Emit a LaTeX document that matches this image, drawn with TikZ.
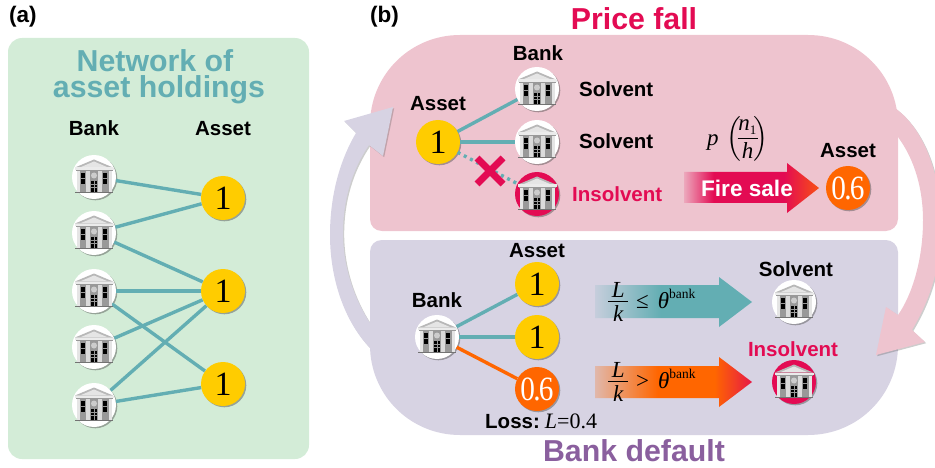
\documentclass[tikz,border=0pt]{standalone}
\usepackage{fontspec}
\usepackage{amsmath}
\setmainfont{Liberation Sans}
\newfontfamily\serifmath{Liberation Serif}
\usetikzlibrary{shadows}
\definecolor{panelgreen}{HTML}{D3ECD7}
\definecolor{panelpink}{HTML}{EEC4CF}
\definecolor{panellav}{HTML}{D7D3E3}
\definecolor{crim}{HTML}{E30B53}
\definecolor{orng}{HTML}{FF6600}
\definecolor{yell}{HTML}{FFCC00}
\definecolor{teal1}{HTML}{63AEB3}
\definecolor{purp}{HTML}{8A5F9E}
\pgfdeclarehorizontalshading{firesale}{100bp}{color(0bp)=(panelpink!85!crim); color(25bp)=(panelpink!85!crim); color(36bp)=(crim); color(62bp)=(crim); color(75bp)=(orng!75!crim); color(100bp)=(orng!75!crim)}
\pgfdeclarehorizontalshading{tealfade}{100bp}{color(0bp)=(panellav!85!teal1); color(25bp)=(panellav!85!teal1); color(46bp)=(teal1); color(100bp)=(teal1)}
\pgfdeclarehorizontalshading{orngfade}{100bp}{color(0bp)=(panellav!75!orng); color(25bp)=(panellav!75!orng); color(45bp)=(orng); color(63bp)=(orng); color(75bp)=(crim!85!orng); color(100bp)=(crim!85!orng)}
\newcommand{\vi}[1]{\hbox{\serifmath\itshape #1}}
\newcommand{\vr}[1]{\hbox{\serifmath #1}}
\newcommand{\numnarrow}{\scalebox{0.86}[1]{0\kern-.06em.\kern-.06em6}}
\newcommand{\frc}[2]{\vcenter{\offinterlineskip\halign{\hfil##\hfil\cr\hbox to 20pt{\hfil\serifmath\itshape #1\hfil}\cr\noalign{\vskip 4pt\hrule height .9pt\vskip 3.5pt}\hbox to 20pt{\hfil\serifmath\itshape #2\hfil}\cr}}}
\tikzset{
  x=1pt,y=-1pt,
  softshadow/.style={drop shadow={shadow xshift=1.3pt,shadow yshift=-1.3pt,opacity=.45,fill=black!70}},
  lightshadow/.style={drop shadow={shadow xshift=1.2pt,shadow yshift=-1.2pt,opacity=.28,fill=black!70}},
  bankc/.style={circle,minimum size=44pt,inner sep=0pt,fill=white,softshadow},
  bankbad/.style={circle,minimum size=44pt,inner sep=0pt,fill=crim,softshadow},
  assetc/.style={circle,minimum size=44pt,inner sep=0pt,fill=yell,softshadow,font=\fontsize{34}{34}\selectfont\serifmath},
  lossc/.style={circle,minimum size=44pt,inner sep=0pt,fill=orng,softshadow,text=white,font=\fontsize{34}{34}\selectfont\serifmath},
  edge/.style={draw=teal1,line width=3.4pt},
  lossedge/.style={draw=orng,line width=3.4pt},
  cutedge/.style={draw=teal1,line width=3.4pt,dash pattern=on 3pt off 4pt},
  lab/.style={inner sep=0pt,anchor=base,font=\fontsize{20.5}{20.5}\selectfont\bfseries},
  tag/.style={inner sep=0pt,anchor=base west,font=\fontsize{22.5}{22.5}\selectfont\bfseries},
  title/.style={inner sep=0pt,anchor=base,font=\fontsize{30.3}{26}\selectfont\bfseries},
  math/.style={inner sep=0pt,anchor=west,font=\fontsize{23}{26}\selectfont\serifmath},
  bankicon/.pic={
    \fill[fill=black!55] (-19,14.6) rectangle (19,16.2);
    \fill[fill=black!40] (-15.5,-6) rectangle (15.5,14.6);
    \fill[fill=black!10] (-17.5,-6) rectangle (-14.5,14.6);
    \fill[fill=black!14] (-8,-6) rectangle (-3.8,14.6);
    \fill[fill=black!14] (3.8,-6) rectangle (8,14.6);
    \fill[fill=black!10] (14.5,-6) rectangle (17.5,14.6);
    \fill[fill=black] (-13.4,-4) rectangle (-9,1);
    \fill[fill=black] (-13.4,2) rectangle (-9,7);
    \fill[fill=black] (9,-4) rectangle (13.4,1);
    \fill[fill=black] (9,2) rectangle (13.4,7);
    \fill[fill=black] (-3,4) rectangle (3,14.6);
    \draw[white!60!black,line width=.5pt] (-3,7) -- (3,7) (-3,10) -- (3,10) (0,4) -- (0,14.6);
    \fill[fill=black!20] (0,-1.5) circle[radius=3];
    \fill[fill=black!28] (-19,-9.5) -- (0,-17.5) -- (19,-9.5) -- cycle;
    \fill[fill=black!10] (-13,-10) -- (0,-15.5) -- (13,-10) -- cycle;
    \fill[fill=black!8] (-19.5,-9.5) rectangle (19.5,-6.8);
    \fill[fill=black!40] (-18.5,-6.8) rectangle (18.5,-5.8);
  }
}
\begin{document}
\begin{tikzpicture}
\useasboundingbox (0,0) rectangle (935,468);
\clip (0,0) rectangle (935,468);
% panels
\fill[panelgreen,rounded corners=14pt] (8,38) rectangle (309,459);
\fill[panelpink] (370,125) .. controls (370,75) and (410,35) .. (460,35) -- (808,35) .. controls (858,35) and (898,75) .. (898,125) -- (898,219) .. controls (898,226) and (892,231) .. (886,231) -- (382,231) .. controls (375,231) and (370,226) .. (370,219) -- cycle;
% cycle arrows
\fill[panellav,lightshadow] (370,348) .. controls (345,322) and (330,280) .. (330,235) .. controls (330,195) and (340,160) .. (356,133) -- (344,121) -- (393,107) -- (383,156) -- (369,145) .. controls (352,170) and (343,200) .. (343,233) .. controls (343,265) and (353,297) .. (370,323) -- cycle;
\fill[panellav] (370,345) .. controls (370,395) and (410,435) .. (460,435) -- (808,435) .. controls (858,435) and (898,395) .. (898,345) -- (898,252) .. controls (898,245) and (892,240) .. (886,240) -- (382,240) .. controls (375,240) and (370,245) .. (370,252) -- cycle;
\fill[panelpink,lightshadow] (895,108) .. controls (925,130) and (940,175) .. (941,220) .. controls (942,265) and (930,300) .. (912,330) -- (925,342) -- (876,355) -- (886,307) -- (898,315) .. controls (912,295) and (923,260) .. (923,220) .. controls (923,190) and (915,160) .. (898,137) -- cycle;
% block arrows
\shade[shading=firesale] (684,172) -- (787,172) -- (787,163) -- (819,188) -- (787,213) -- (787,203) -- (684,203) -- cycle;
\shade[shading=tealfade] (595,285) -- (719,285) -- (719,277) -- (752,302) -- (719,327) -- (719,318) -- (595,318) -- cycle;
\shade[shading=orngfade] (595,366) -- (719,366) -- (719,357) -- (752,382) -- (719,407) -- (719,398) -- (595,398) -- cycle;
% panel letters and titles
\node[tag] (tagA) at (9,23) {(a)};
\node[tag] (tagB) at (370,23) {(b)};
\node[title,text=teal1,align=center,anchor=base] (tA) at (159,98) {\hspace*{-8pt}Network of\\asset holdings};
\node[title,text=crim] (tB1) at (634,30) {Price fall};
\node[title,text=purp] (tB2) at (634,461) {Bank default};
% panel a
\node[lab] (hBank) at (94,136) {Bank};
\node[lab] (hAsset) at (223,136) {Asset};
\node[bankc] (b1) at (94,177) {};
\node[bankc] (b2) at (94,233) {};
\node[bankc] (b3) at (94,291) {};
\node[bankc] (b4) at (94,347) {};
\node[bankc] (b5) at (94,405) {};
\node[assetc] (a1) at (223,198) {1};
\node[assetc] (a2) at (223,291) {1};
\node[assetc] (a3) at (223,384) {1};
\draw[edge] (b1) -- (a1);
\draw[edge] (b2) -- (a1);
\draw[edge] (b2) -- (a2);
\draw[edge] (b3) -- (a2);
\draw[edge] (b3) -- (a3);
\draw[edge] (b4) -- (a2);
\draw[edge] (b5) -- (a2);
\draw[edge] (b5) -- (a3);
\foreach \n in {b1,b2,b3,b4,b5} {\pic at (\n) {bankicon};}
% panel b top
\node[lab] (uBank) at (538,61) {Bank};
\node[lab] (uAsset) at (438,111) {Asset};
\node[assetc] (ua) at (438,142) {1};
\node[bankc] (ub1) at (537,89) {};
\node[bankc] (ub2) at (537,142) {};
\node[bankbad] (ub3) at (537,194) {};
\draw[edge] (ua) -- (ub1);
\draw[edge] (ua) -- (ub2);
\draw[cutedge] (ua) -- (ub3);
\foreach \n in {ub1,ub2,ub3} {\pic at (\n) {bankicon};}
\node[lab,anchor=base west] (uS1) at (579,97) {Solvent};
\node[lab,anchor=base west] (uS2) at (579,149) {Solvent};
\node[lab,anchor=base west,text=crim] (uI) at (572,202) {Insolvent};
\draw[crim,line width=7pt] (477,158) -- (503,184) (503,158) -- (477,184);
\node[math] (price) at (707,139) {$\vi{p}\,\left(\vrule height 16pt depth 16pt width 0pt\!\frc{\hbox{\itshape n\/$_{\hbox{\fontsize{13}{13}\selectfont\upshape\serifmath 1}}$}}{h}\!\right)$};
\node[inner sep=0pt,text=white,font=\fontsize{22.6}{22.6}\selectfont\bfseries] (fire) at (747,188) {Fire sale};
\node[lab] (uAsset2) at (848,158) {Asset};
\node[lossc] (uLoss) at (848,188) {\numnarrow};
% panel b bottom
\node[lab] (lAsset) at (537,257) {Asset};
\node[lab] (lBank) at (437,307) {Bank};
\node[bankc] (lb) at (437,337) {};
\node[assetc] (la1) at (537,284) {1};
\node[assetc] (la2) at (537,337) {1};
\node[lossc] (la3) at (537,389) {\numnarrow};
\draw[edge] (lb) -- (la1);
\draw[edge] (lb) -- (la2);
\draw[lossedge] (lb) -- (la3);
\pic at (lb) {bankicon};
\node[inner sep=0pt,anchor=base west,font=\fontsize{20.5}{20.5}\selectfont] (loss) at (485,428) {\textbf{Loss:}\hspace{5pt}{\fontsize{22}{22}\selectfont\serifmath\itshape L\upshape=0.4}};
\node[math] (fracA) at (608,302) {$\frc{L}{k}\hspace{8pt}{\vr{≤}}\hspace{9pt}\vi{θ}^{\hbox{\fontsize{13.5}{13.5}\selectfont\serifmath bank}}$};
\node[math] (fracB) at (608,382) {$\frc{L}{k}\hspace{8pt}{\vr{>}}\hspace{9pt}\vi{θ}^{\hbox{\fontsize{13.5}{13.5}\selectfont\serifmath bank}}$};
\node[lab] (lS) at (796,276) {Solvent};
\node[lab,text=crim] (lI) at (793,356) {Insolvent};
\node[bankc] (lb2) at (794,302) {};
\node[bankbad] (lb3) at (794,382) {};
\pic at (lb2) {bankicon};
\pic at (lb3) {bankicon};
\end{tikzpicture}
\end{document}
